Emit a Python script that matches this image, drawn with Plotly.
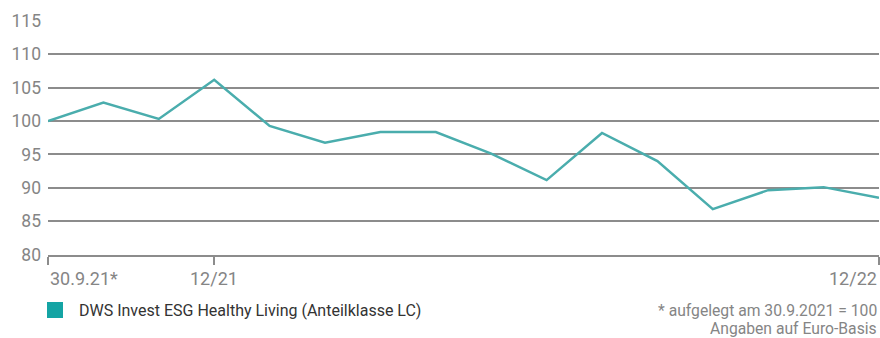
import plotly.graph_objects as go

months = ["9/21", "10/21", "11/21", "12/21", "1/22", "2/22", "3/22", "4/22", "5/22",
          "6/22", "7/22", "8/22", "9/22", "10/22", "11/22", "12/22"]
values = [100.0, 102.75, 100.3, 106.15, 99.25, 96.75, 98.35, 98.35, 95.1,
          91.15, 98.2, 94.0, 86.8, 89.65, 90.1, 88.5]
tick_idx = [0, 3, 15]
tick_text = ["30.9.21*", "12/21", "12/22"]
tick_anchor = ["left", "center", "right"]
y_ticks = [80, 85, 90, 95, 100, 105, 110, 115]
series_name = "DWS Invest ESG Healthy Living (Anteilklasse LC)"
notes = ["* aufgelegt am 30.9.2021 = 100", "Angaben auf Euro-Basis"]

x = list(range(len(months)))
FONT = "Roboto"
GRAY = "#858585"
GRID = "#8c8c8c"
TEAL = "#4aadad"

fig = go.Figure()
fig.add_trace(go.Scatter(x=x, y=values, mode="lines",
                         line=dict(color=TEAL, width=2.5), cliponaxis=False,
                         name=series_name, showlegend=False))

fig.update_layout(
    width=880, height=338,
    margin=dict(l=48, r=1, t=20, b=83),
    paper_bgcolor="white", plot_bgcolor="white",
    font=dict(family=FONT, color=GRAY),
    xaxis=dict(range=[0, 15], tickvals=tick_idx, showticklabels=False,
               ticks="outside", ticklen=8, tickwidth=1.5, tickcolor=GRID,
               showgrid=False, zeroline=False, showline=True, linecolor=GRID,
               linewidth=1.5, fixedrange=True),
    yaxis=dict(range=[79.95, 115.1], tickvals=y_ticks, ticks="",
               tickfont=dict(size=17.5, color=GRAY, family=FONT),
               gridcolor=GRID, gridwidth=1.5, zeroline=False, showline=False,
               ticklabelstandoff=6, fixedrange=True),
)

for i, t, a in zip(tick_idx, tick_text, tick_anchor):
    fig.add_annotation(x=i, y=0, xref="x", yref="paper", text=t, showarrow=False,
                       xanchor=a, yanchor="top", yshift=-11, xshift=0,
                       font=dict(size=18, color=GRAY, family=FONT))

# legend
H = 235.0
fig.add_shape(type="rect", xref="paper", yref="paper",
              x0=-1 / 831, x1=15 / 831, y0=-(318 - 255) / H, y1=-(302 - 255) / H,
              fillcolor="#14a4a4", line=dict(width=0))
fig.add_annotation(x=(77 - 48) / 831, y=-(310 - 255) / H, xref="paper", yref="paper",
                   text=series_name, showarrow=False, xanchor="left", yanchor="middle",
                   font=dict(size=16, color="#333333", family=FONT))
for k, n in enumerate(notes):
    fig.add_annotation(x=1, y=-(310 + 18 * k - 255) / H, xref="paper", yref="paper",
                       text=n, showarrow=False, xanchor="right", yanchor="middle",
                       font=dict(size=15.7, color=GRAY, family=FONT))

fig.write_html("out.html", config={"displayModeBar": False},
               post_script="document.body.style.margin='0';")
